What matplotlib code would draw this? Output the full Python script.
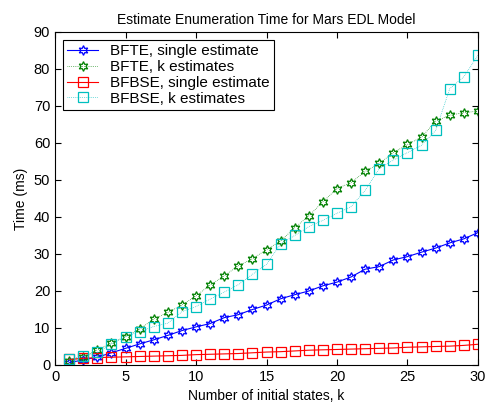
import numpy as np
import matplotlib
matplotlib.use('Agg')
import matplotlib.pyplot as plt

plt.rcParams['font.family'] = ['Liberation Sans', 'DejaVu Sans']

# Data
k = np.arange(1, 31)
bfte_single = [0.6, 1.4, 2.1, 3.3, 4.5, 5.7, 6.8, 8.0, 9.3, 10.3,
               11.2, 12.8, 13.6, 15.0, 16.2, 17.9, 19.0, 20.0, 21.4, 22.4,
               23.8, 25.9, 26.6, 28.4, 29.3, 30.5, 31.6, 33.0, 34.1, 35.8]
bfte_k = [1.1, 2.1, 4.1, 5.9, 7.7, 9.7, 12.4, 14.2, 16.2, 18.7,
          21.6, 24.1, 26.8, 28.7, 31.2, 33.5, 37.1, 40.3, 44.1, 47.7,
          49.3, 52.3, 54.5, 57.4, 59.6, 61.6, 65.9, 67.5, 68.2, 68.6]
bfbse_single = [1.5, 1.8, 2.0, 2.1, 2.2, 2.3, 2.4, 2.5, 2.6, 2.8,
                2.9, 3.0, 3.1, 3.3, 3.5, 3.6, 3.8, 4.0, 4.1, 4.2,
                4.3, 4.4, 4.5, 4.6, 4.8, 4.9, 5.0, 5.1, 5.3, 5.6]
bfbse_k = [1.5, 2.4, 3.4, 5.7, 7.7, 9.0, 10.4, 11.3, 14.4, 15.8,
           17.8, 19.7, 21.7, 24.5, 27.2, 32.7, 35.0, 37.4, 39.1, 41.0,
           42.8, 47.2, 53.1, 55.4, 57.4, 59.4, 63.4, 74.7, 77.9, 83.7]

hexagram = (6, 1, 0)

fig = plt.figure(figsize=(4.89, 4.08), dpi=100)
ax = fig.add_axes([0.1125, 0.1054, 0.865, 0.8162])

ax.plot(k, bfte_single, '-', color='blue', marker=hexagram, mfc='none',
        ms=7, mew=0.9, lw=0.8, label='BFTE, single estimate')
ax.plot(k, bfte_k, ':', color=(0, 0.5, 0), marker=hexagram, mfc='none',
        ms=7, mew=0.9, lw=0.5, label='BFTE, k estimates')
ax.plot(k, bfbse_single, '-', color='red', marker='s', mfc='none',
        ms=6.5, mew=0.9, lw=0.8, label='BFBSE, single estimate')
ax.plot(k, bfbse_k, ':', color=(0, 0.75, 0.75), marker='s', mfc='none',
        ms=6.5, mew=0.9, lw=0.5, label='BFBSE, k estimates')

ax.set_xlim(0, 30)
ax.set_ylim(0, 90)
ax.set_xticks(range(0, 31, 5))
ax.set_yticks(range(0, 91, 10))
ax.tick_params(direction='in', top=True, right=True, labelsize=10.5, length=4)
for s in ax.spines.values():
    s.set_linewidth(0.8)

ax.set_xlabel('Number of initial states, k', fontsize=10)
ax.set_ylabel('Time (ms)', fontsize=10)
ax.set_title('Estimate Enumeration Time for Mars EDL Model', fontsize=10)

leg = ax.legend(loc='upper left', fontsize=11, fancybox=False, framealpha=1,
                edgecolor='black', borderpad=0.3, labelspacing=0.12,
                handlelength=2.0, handletextpad=0.8, borderaxespad=0.5)
leg.get_frame().set_linewidth(0.8)

fig.savefig('out.png', dpi=100)
